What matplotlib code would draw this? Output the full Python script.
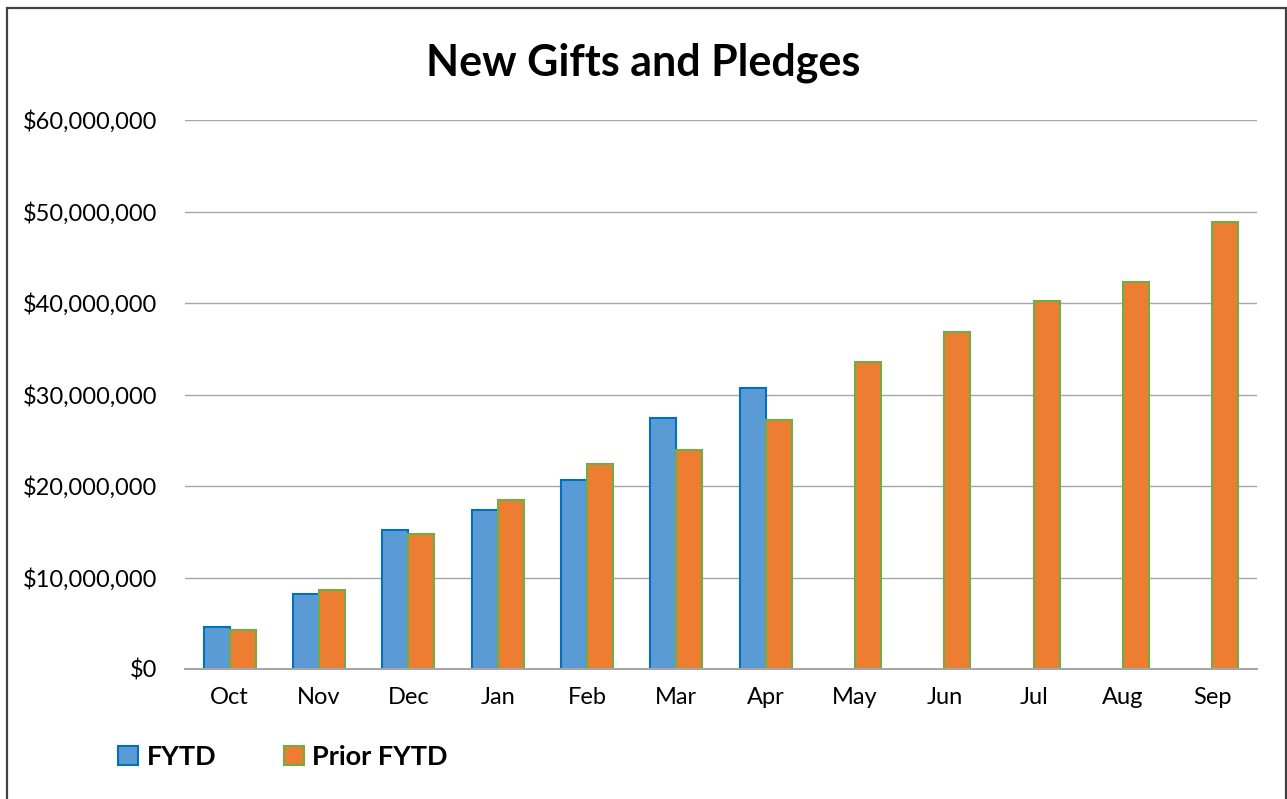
import matplotlib.pyplot as plt
import numpy as np
from matplotlib.patches import Rectangle
from matplotlib.ticker import FuncFormatter

# dados
meses = ['Oct', 'Nov', 'Dec', 'Jan', 'Feb', 'Mar', 'Apr', 'May', 'Jun', 'Jul', 'Aug', 'Sep']
fytd = [4.63e6, 8.24e6, 15.2e6, 17.35e6, 20.7e6, 27.4e6, 30.7e6]
prior_fytd = [4.23e6, 8.68e6, 14.8e6, 18.5e6, 22.4e6, 23.9e6, 27.2e6,
              33.55e6, 36.8e6, 40.2e6, 42.3e6, 48.9e6]
yticks = [0, 10e6, 20e6, 30e6, 40e6, 50e6, 60e6]

plt.rcParams['font.family'] = ['Lato', 'DejaVu Sans']

W, H = 1287, 799
fig = plt.figure(figsize=(W / 100, H / 100), dpi=100)
ax = fig.add_axes([185 / W, 1 - 669 / H, (1257 - 185) / W, (669 - 120) / H])

x = np.arange(len(meses))
largura = 0.29
ax.bar(x[:len(fytd)] - largura / 2, fytd, width=largura, color='#5B9BD5',
       edgecolor='#0070C0', linewidth=1.5, label='FYTD', zorder=3)
ax.bar(x + largura / 2, prior_fytd, width=largura, color='#ED7D31',
       edgecolor='#70AD47', linewidth=1.5, label='Prior FYTD', zorder=3)

ax.set_xlim(-0.5, len(meses) - 0.5)
ax.set_ylim(0, 60e6)
ax.set_yticks(yticks)
ax.yaxis.set_major_formatter(FuncFormatter(lambda v, p: f'${v:,.0f}'))
ax.set_xticks(x)
ax.set_xticklabels(meses)
ax.tick_params(axis='both', length=0, labelsize=17, colors='black')
ax.tick_params(axis='y', pad=20)
ax.tick_params(axis='x', pad=13)
ax.grid(axis='y', color='#A6A6A6', linewidth=1.0, zorder=0)
for s in ['top', 'right', 'left']:
    ax.spines[s].set_visible(False)
ax.spines['bottom'].set_color('#A6A6A6')
ax.spines['bottom'].set_linewidth(1.5)
ax.spines['bottom'].set_zorder(4)

fig.text(0.5, 1 - 63 / H, 'New Gifts and Pledges', ha='center', va='center',
         fontsize=31, fontweight='bold')

ax.legend(loc='center left', bbox_to_anchor=(118 / W, 1 - 757 / H),
          bbox_transform=fig.transFigure, ncol=2, frameon=False,
          prop={'weight': 'bold', 'size': 19.5}, handlelength=0.75,
          handleheight=0.75, handletextpad=0.3, columnspacing=2.5,
          borderpad=0, borderaxespad=0)

# moldura do grafico
fig.add_artist(Rectangle((7 / W, -0.01), (1285.5 - 7) / W, 1 - 8 / H + 0.01,
                         transform=fig.transFigure, fill=False,
                         edgecolor='#404040', linewidth=1.6))

fig.savefig('out.png', dpi=100)
